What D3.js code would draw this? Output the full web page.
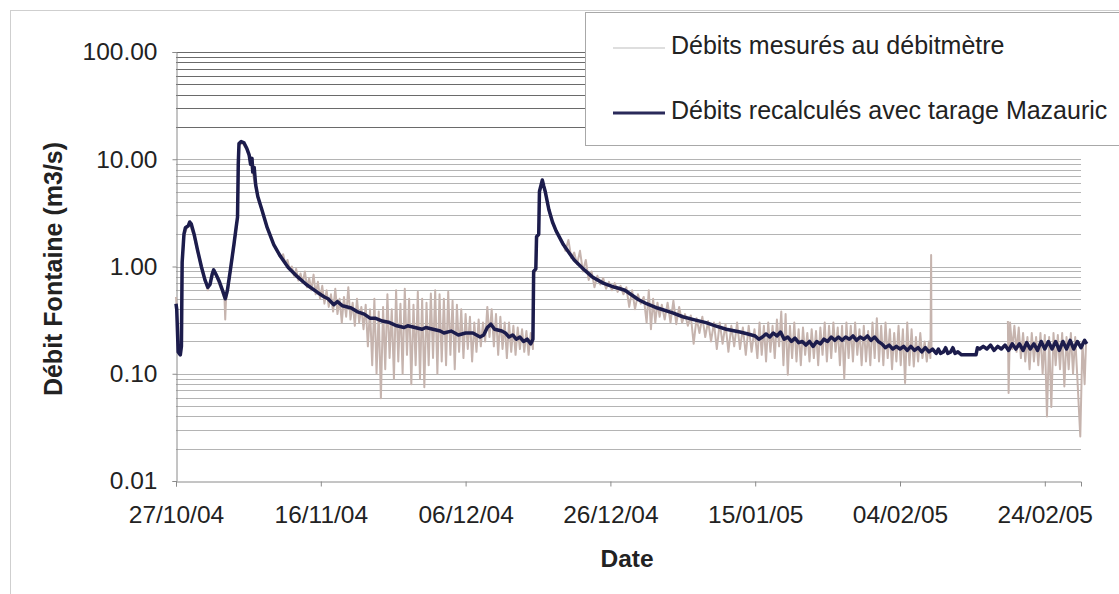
<!DOCTYPE html>
<html><head><meta charset="utf-8">
<script src="https://cdn.jsdelivr.net/npm/d3@7"></script>
<style>
html,body{margin:0;padding:0;background:#fff;}
svg{display:block;font-family:"Liberation Sans",Arial,sans-serif;}
</style></head>
<body><svg id="c" width="1119" height="594"></svg>
<script>
// ---- data ----
const startDate = "27/10/04";
const endDate = "01/03/05";
const xTickLabels = ["27/10/04","16/11/04","06/12/04","26/12/04","15/01/05","04/02/05","24/02/05"];
const yTickValues = [0.01, 0.1, 1, 10, 100];
const seriesNames = ["Débits mesurés au débitmètre", "Débits recalculés avec tarage Mazauric"];
// [days since 27/10/04, m3/s]
const recalcules = [
[0,0.45],[0.1,0.40],[0.3,0.16],[0.6,0.15],[0.75,0.18],[0.85,1.1],[1.1,2.0],[1.3,2.3],[1.7,2.4],[1.9,2.6],[2.1,2.5],[2.5,2.0],[3.0,1.4],[3.5,1.0],[4.0,0.75],[4.4,0.64],[4.7,0.68],[5.0,0.85],[5.2,0.93],[5.5,0.85],[6.0,0.72],[6.5,0.58],[6.8,0.50],[7.1,0.60],[7.5,0.92],[8.0,1.6],[8.3,2.3],[8.5,2.9],[8.6,9.0],[8.7,14.0],[9.0,14.6],[9.4,14.2],[9.8,12.5],[10.1,11.0],[10.3,9.0],[10.5,10.2],[10.6,7.6],[10.8,8.4],[11.0,5.8],[11.3,4.5],[11.8,3.5],[12.6,2.3],[13.5,1.6],[14.4,1.25],[15.5,0.98],[16.8,0.80],[18.0,0.68],[19.6,0.57],[20.5,0.52],[21.0,0.50],[21.8,0.44],[22.3,0.47],[23.0,0.43],[24.2,0.41],[25.0,0.38],[26.0,0.36],[26.8,0.33],[27.5,0.33],[28.5,0.31],[29.5,0.30],[30.5,0.28],[31.5,0.27],[32.0,0.28],[33.0,0.27],[34.0,0.26],[34.5,0.27],[35.5,0.26],[36.5,0.25],[37.0,0.24],[38.0,0.25],[39.0,0.23],[40.0,0.24],[41.0,0.24],[42.0,0.22],[42.5,0.23],[43.0,0.27],[43.5,0.29],[44.0,0.26],[45.0,0.25],[45.5,0.24],[46.0,0.22],[46.5,0.23],[47.0,0.21],[47.5,0.22],[48.0,0.20],[48.5,0.21],[49.0,0.19],[49.3,0.21],
[49.4,0.9],[49.7,0.95],[49.8,1.9],[50.1,2.0],[50.2,5.0],[50.6,6.4],[50.8,5.6],[51.0,5.0],[51.5,3.4],[52.0,2.6],[52.5,2.15],[53.5,1.6],[54.0,1.43],[55.0,1.15],[56.4,0.93],[57.5,0.80],[59.0,0.70],[60.6,0.64],[61.0,0.63],[62.0,0.60],[63.9,0.49],[65.0,0.45],[66.5,0.41],[68.6,0.37],[70.0,0.34],[71.5,0.32],[73.2,0.30],[74.5,0.28],[76.0,0.26],[77.9,0.245],[79.0,0.235],
[80,0.225],[80.5,0.21],[81,0.22],[81.5,0.235],[82,0.22],[82.5,0.24],[83,0.225],[83.5,0.245],[84,0.21],[84.5,0.22],[85,0.2],[85.5,0.215],[86,0.195],[86.5,0.2],[87,0.185],[87.5,0.2],[88,0.18],[88.5,0.2],[89,0.19],[89.5,0.21],[90,0.2],[90.5,0.22],[91,0.205],[91.5,0.22],[92,0.205],[92.5,0.22],[93,0.21],[93.5,0.225],[94,0.205],[94.5,0.22],[95,0.21],[95.5,0.225],[96,0.205],[96.5,0.22],[97,0.2],[97.5,0.19],[98,0.175],[98.5,0.185],[99,0.17],[99.5,0.18],[100,0.17],[100.5,0.18],[101,0.165],[101.5,0.18],[102,0.165],[102.5,0.175],[103,0.16],[103.5,0.175],[104,0.16],[104.5,0.17],[105,0.155],[105.3,0.17],[105.6,0.155],[106,0.16],[106.3,0.175],[106.6,0.155],[107,0.16],[107.3,0.175],[107.6,0.155],[108,0.16],[108.5,0.15],[110.5,0.15],[110.7,0.175],[111,0.17],[111.5,0.18],[112,0.17],[112.5,0.185],[113,0.165],[113.5,0.18],[114,0.17],[114.5,0.185],[115,0.165],[115.5,0.19],[116,0.17],[116.5,0.19],[117,0.165],[117.5,0.195],[118,0.17],[118.5,0.19],[119,0.165],[119.5,0.2],[120,0.17],[120.5,0.2],[121,0.17],[121.5,0.2],[122,0.165],[122.5,0.2],[123,0.17],[123.5,0.205],[124,0.17],[124.5,0.2],[125,0.175],[125.5,0.205],[125.8,0.19]
];
const mesures = [
[0,0.52],[0.1,0.42],[0.3,0.17],[0.6,0.16],[0.8,0.9],[1.1,1.9],[1.5,2.3],[1.9,2.5],[2.5,1.9],[3,1.35],[3.5,0.98],[4,0.72],[4.4,0.6],[5,0.82],[5.2,0.9],[5.6,0.8],[6.2,0.62],[6.7,0.5],[6.8,0.32],[6.9,0.48],[7.2,0.62],[7.5,0.88],[8,1.5],[8.5,2.8],[8.7,13.5],[9.2,14.2],[9.8,12.2],[10.3,9.5],[10.6,7.4],[11.3,4.4],[12.6,2.25],[13.5,1.6],[14.4,1.22],
[14.8,1.3],[15.1,1.05],[15.4,1.15],[15.7,0.95],[16,1.0],[16.3,0.82],[16.6,0.95],[16.9,0.74],[17.2,0.86],[17.5,0.7],[17.8,0.9],[18.1,0.64],[18.4,0.78],[18.7,0.6],[19,0.84],[19.3,0.55],[19.6,0.72],[19.9,0.5],[20.2,0.66],[20.5,0.45],[20.8,0.6],[21.1,0.42],[21.4,0.55],
[21.7,0.38],[22.0,0.62],[22.3,0.36],[22.6,0.5],[22.9,0.3],[23.2,0.52],[23.5,0.34],[23.8,0.64],[24.1,0.32],[24.4,0.46],[24.7,0.28],[25.0,0.5],[25.3,0.3],[25.6,0.42],[25.9,0.26],[26.2,0.44],[26.5,0.18],[26.8,0.4],[27.1,0.12],[27.4,0.5],[27.7,0.1],[28.0,0.38],[28.3,0.059],[28.6,0.42],[28.9,0.11],[29.2,0.55],[29.5,0.14],[29.8,0.4],[30.1,0.09],[30.4,0.6],[30.7,0.13],[31.0,0.45],[31.3,0.1],[31.6,0.62],[31.9,0.15],[32.2,0.5],[32.5,0.08],[32.8,0.44],[33.1,0.12],[33.4,0.58],[33.7,0.09],[34.0,0.5],[34.3,0.075],[34.6,0.46],[34.9,0.12],[35.2,0.56],[35.5,0.14],[35.8,0.6],[36.1,0.1],[36.4,0.55],[36.7,0.13],[37.0,0.5],[37.3,0.12],[37.6,0.58],[37.9,0.15],[38.2,0.48],[38.5,0.11],[38.8,0.44],[39.1,0.16],[39.4,0.4],[39.7,0.14],[40.0,0.36],[40.3,0.17],[40.6,0.34],[40.9,0.13],[41.2,0.3],[41.5,0.16],[41.8,0.32],[42.1,0.18],[42.4,0.3],[42.7,0.2],[43.0,0.42],[43.3,0.22],[43.6,0.4],[43.9,0.18],[44.2,0.36],[44.5,0.15],[44.8,0.34],[45.1,0.17],[45.4,0.3],[45.7,0.14],[46.0,0.3],[46.3,0.16],[46.6,0.28],[46.9,0.15],[47.2,0.27],[47.5,0.17],[47.8,0.26],[48.1,0.16],[48.4,0.25],[48.7,0.15],[49.0,0.24],[49.3,0.17],
[49.4,0.85],[49.7,0.92],[49.8,1.8],[50.1,1.95],[50.2,4.8],[50.6,6.2],[51,4.9],[51.5,3.3],[52,2.55],[52.5,2.1],[53,1.85],
[53.4,1.7],[53.8,1.4],[54.2,1.77],[54.6,1.2],[55,1.35],[55.4,1.05],[55.8,1.4],[56.2,0.9],[56.6,1.15],[57,0.75],[57.4,0.9],[57.8,0.64],[58.2,0.82],[58.6,0.68],[59,0.78],[59.4,0.62],[59.8,0.72],[60.2,0.6],[60.6,0.7],[61,0.58],[61.4,0.66],[61.8,0.55],[62.2,0.64],[62.6,0.42],[63,0.6],[63.4,0.4],[63.8,0.55],[64.2,0.45],[64.6,0.52],[65,0.3],[65.3,0.6],[65.6,0.26],[65.9,0.5],[66.2,0.3],[66.5,0.46],[66.8,0.34],[67.1,0.44],[67.5,0.32],[67.9,0.46],[68.3,0.3],[68.7,0.48],[69.1,0.29],[69.5,0.42],[69.9,0.3],[70.3,0.36],[70.7,0.28],[71.1,0.35],[71.5,0.19],[71.9,0.33],[72.3,0.24],[72.7,0.34],[73.1,0.22],[73.5,0.31],[73.9,0.2],[74.3,0.3],[74.7,0.17],[75.1,0.3],[75.5,0.19],[75.9,0.29],[76.3,0.16],[76.7,0.28],[77.1,0.18],[77.5,0.3],[77.9,0.17],[78.3,0.27],[78.7,0.15],[79.1,0.28],[79.5,0.16],[79.9,0.26],
[80.3,0.14],[80.6,0.3],[80.9,0.15],[81.2,0.28],[81.5,0.13],[81.8,0.3],[82.1,0.16],[82.4,0.28],[82.7,0.14],[83.0,0.32],[83.3,0.18],[83.6,0.38],[83.9,0.12],[84.2,0.36],[84.5,0.098],[84.8,0.28],[85.1,0.14],[85.4,0.3],[85.7,0.13],[86.0,0.26],[86.3,0.12],[86.6,0.27],[86.9,0.15],[87.2,0.24],[87.5,0.13],[87.8,0.26],[88.1,0.14],[88.4,0.25],[88.7,0.12],[89.0,0.27],[89.3,0.15],[89.6,0.3],[89.9,0.13],[90.2,0.28],[90.5,0.14],[90.8,0.3],[91.1,0.16],[91.4,0.27],[91.7,0.12],[92.0,0.28],[92.3,0.091],[92.6,0.3],[92.9,0.14],[93.2,0.28],[93.5,0.13],[93.8,0.3],[94.1,0.15],[94.4,0.26],[94.7,0.12],[95.0,0.28],[95.3,0.13],[95.6,0.25],[95.9,0.12],[96.2,0.3],[96.5,0.14],[96.8,0.33],[97.1,0.13],[97.4,0.28],[97.7,0.12],[98.0,0.3],[98.3,0.14],[98.6,0.26],[98.9,0.11],[99.2,0.24],[99.5,0.13],[99.8,0.28],[100.1,0.12],[100.4,0.26],[100.7,0.082],[101.0,0.3],[101.3,0.12],[101.6,0.26],[101.9,0.117],[102.2,0.22],[102.5,0.13],[102.8,0.24],[103.1,0.14],[103.4,0.2],[103.7,0.13],[104.0,0.2],[104.2,0.14],[104.3,1.28],[104.35,0.16],
[104.5,null],
[114.9,0.31],[115.0,0.066],[115.2,0.3],[115.5,0.17],[115.8,0.28],[116.1,0.16],[116.4,0.27],[116.7,0.14],[117.0,0.24],[117.3,0.13],[117.6,0.22],[117.9,0.11],[118.2,0.24],[118.5,0.13],[118.8,0.22],[119.1,0.12],[119.4,0.24],[119.7,0.1],[120.0,0.23],[120.3,0.04],[120.6,0.22],[120.9,0.049],[121.2,0.24],[121.5,0.12],[121.8,0.23],[122.1,0.11],[122.4,0.24],[122.7,0.076],[123.0,0.22],[123.3,0.11],[123.6,0.24],[123.9,0.1],[124.2,0.22],[124.5,0.09],[124.9,0.026],[125.2,0.2],[125.5,0.08],[125.7,0.2]
];

// ---- drawing ----
const svg = d3.select("#c");
const parse = d3.timeParse("%d/%m/%y");
const t0 = parse(startDate);
const toDate = d => new Date(t0.getTime() + d * 86400000);
const M = {left:176, right:1081, top:52, bottom:481};
const x = d3.scaleTime().domain([t0, parse(endDate)]).range([M.left, M.right]);
const y = d3.scaleLog().domain([0.01, 100]).range([M.bottom, M.top]);
const FONT = "Liberation Sans, Arial, sans-serif";

// outer chart frame
svg.append("rect").attr("x",10.5).attr("y",10.5).attr("width",1200).attr("height",700)
  .attr("fill","none").attr("stroke","#cfcfcf");

// gridlines
const gridVals = [];
[0.01,0.1,1,10].forEach(d => { for (let k=1;k<=9;k++) gridVals.push(k*d); });
gridVals.push(100);
svg.append("g").selectAll("line").data(gridVals.filter(v => v > 0.0100001)).join("line")
  .attr("x1",M.left).attr("x2",M.right)
  .attr("y1",d=>Math.round(y(d))+0.5).attr("y2",d=>Math.round(y(d))+0.5)
  .attr("stroke",d => d > 10.5 ? "#6a6a6a" : "#b4b4b4").attr("stroke-width",1);

// axes
const xAxis = d3.axisBottom(x).tickValues(xTickLabels.map(parse)).tickFormat(d3.timeFormat("%d/%m/%y")).tickSizeOuter(0).tickSize(5).tickPadding(19);
const gx = svg.append("g").attr("transform",`translate(0,${M.bottom+0.5})`).call(xAxis);
gx.select(".domain").attr("stroke","#8a8a8a");
gx.selectAll(".tick line").attr("stroke","#8a8a8a");
gx.selectAll("text").attr("font-size",24.5).attr("fill","#222").attr("font-family",FONT);

const yAxis = d3.axisLeft(y).tickValues(yTickValues).tickFormat(d3.format(".2f")).tickSizeOuter(0).tickSize(4).tickPadding(15);
const gy = svg.append("g").attr("transform",`translate(${M.left+0.5},0)`).call(yAxis);
gy.select(".domain").attr("stroke","#8a8a8a");
gy.selectAll(".tick line").attr("stroke","#8a8a8a");
gy.selectAll("text").attr("font-size",24.5).attr("fill","#222").attr("font-family",FONT);

// series
const line = d3.line().defined(d => d[1] != null).x(d => x(toDate(d[0]))).y(d => y(d[1]));
svg.append("path").datum(mesures).attr("d",line).attr("fill","none")
  .attr("stroke","#c6b4ae").attr("stroke-width",2).attr("stroke-linejoin","round");
svg.append("path").datum(recalcules).attr("d",line).attr("fill","none")
  .attr("stroke","#1c1c4c").attr("stroke-width",3.5).attr("stroke-linejoin","round");

// axis titles
svg.append("text").attr("x",627).attr("y",567).attr("text-anchor","middle")
  .attr("font-size",24.5).attr("font-weight","bold").attr("fill","#222").text("Date");
svg.append("text").attr("transform","translate(62,269) rotate(-90)").attr("text-anchor","middle")
  .attr("font-size",25).attr("font-weight","bold").attr("fill","#222").text("Débit Fontaine (m3/s)");

// legend
const lg = svg.append("g");
lg.append("rect").attr("x",585.5).attr("y",12.5).attr("width",600).attr("height",133)
  .attr("fill","#fff").attr("stroke","#a8a8a8");
const legendRows = [{name:seriesNames[0], color:"#bdbdbd", w:1.2, yy:48},{name:seriesNames[1], color:"#2a2a5a", w:3, yy:113}];
legendRows.forEach(r => {
  lg.append("line").attr("x1",613).attr("x2",665).attr("y1",r.yy).attr("y2",r.yy).attr("stroke",r.color).attr("stroke-width",r.w);
  lg.append("text").attr("x",671).attr("y",r.yy+6).attr("font-size",25).attr("fill","#222").text(r.name);
});
</script></body></html>
